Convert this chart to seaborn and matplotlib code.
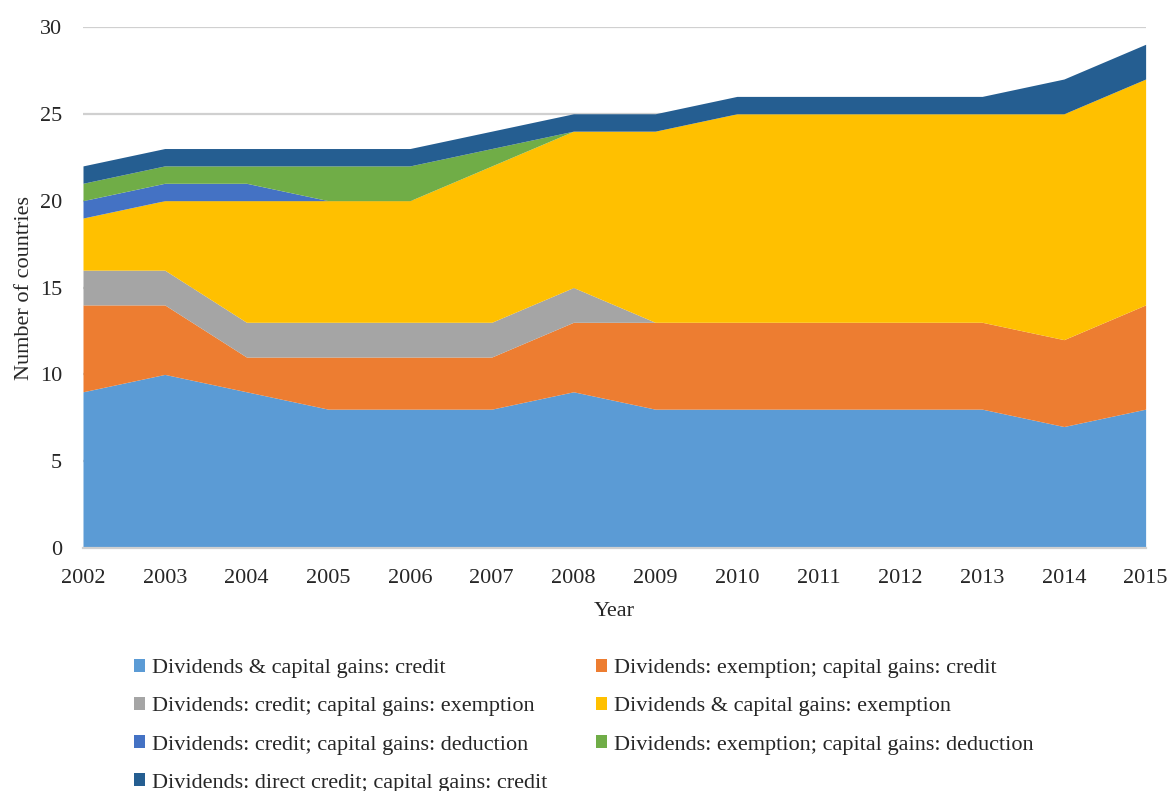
import matplotlib
matplotlib.use("Agg")
import matplotlib.pyplot as plt
import seaborn as sns
import numpy as np

years = [2002, 2003, 2004, 2005, 2006, 2007, 2008, 2009, 2010, 2011, 2012, 2013, 2014, 2015]
div_cg_credit      = [9, 10, 9, 8, 8, 8, 9, 8, 8, 8, 8, 8, 7, 8]
div_ex_cg_credit   = [5, 4, 2, 3, 3, 3, 4, 5, 5, 5, 5, 5, 5, 6]
div_cr_cg_ex       = [2, 2, 2, 2, 2, 2, 2, 0, 0, 0, 0, 0, 0, 0]
div_cg_ex          = [3, 4, 7, 7, 7, 9, 9, 11, 12, 12, 12, 12, 13, 13]
div_cr_cg_ded      = [1, 1, 1, 0, 0, 0, 0, 0, 0, 0, 0, 0, 0, 0]
div_ex_cg_ded      = [1, 1, 1, 2, 2, 1, 0, 0, 0, 0, 0, 0, 0, 0]
div_direct_cg_cr   = [1, 1, 1, 1, 1, 1, 1, 1, 1, 1, 1, 1, 2, 2]

labels = [
    "Dividends & capital gains: credit",
    "Dividends: exemption; capital gains: credit",
    "Dividends: credit; capital gains: exemption",
    "Dividends & capital gains: exemption",
    "Dividends: credit; capital gains: deduction",
    "Dividends: exemption; capital gains: deduction",
    "Dividends: direct credit; capital gains: credit",
]
colors = ["#5B9BD5", "#ED7D31", "#A5A5A5", "#FFC000", "#4472C4", "#70AD47", "#255E91"]

sns.set_style("white")
plt.rcParams['font.family'] = ['Liberation Serif', 'DejaVu Serif']

fig = plt.figure(figsize=(11.69, 7.91), dpi=100)
ax = fig.add_axes([0.071, 0.307, 0.909, 0.659])

series = [div_cg_credit, div_ex_cg_credit, div_cr_cg_ex, div_cg_ex,
          div_cr_cg_ded, div_ex_cg_ded, div_direct_cg_cr]
pal = sns.color_palette(colors)
polys = ax.stackplot(years, *series, colors=pal, labels=labels, linewidth=0, zorder=2)

ax.set_xlim(2002, 2015)
ax.set_ylim(0, 30)
ax.set_yticks(range(0, 31, 5))
ax.set_xticks(years)
ax.set_xticklabels([str(y) for y in years])
ax.yaxis.grid(True, color="#D0D0D0", linewidth=1.6, zorder=0)
ax.set_axisbelow(True)
for s in ["top", "right", "left"]:
    ax.spines[s].set_visible(False)
ax.spines["bottom"].set_color("#D0D0D0")
ax.spines["bottom"].set_linewidth(1.6)
ax.spines["bottom"].set_zorder(3)
ax.tick_params(axis="x", direction="out", length=6, width=1.4, color="#D0D0D0", labelsize=16, pad=9)
ax.tick_params(axis="y", length=0, labelsize=16, pad=15)
ax.set_xlabel("Year", fontsize=16, labelpad=10)
ax.set_ylabel("Number of countries", fontsize=16, labelpad=4)

handles = list(polys)
order = [0, 2, 4, 6, 1, 3, 5]
leg = fig.legend([handles[i] for i in order], [labels[i] for i in order],
                 loc="upper left", bbox_to_anchor=(0.107, 0.178), ncol=2, frameon=False,
                 fontsize=16, handlelength=0.5, handleheight=0.5, handletextpad=0.3,
                 columnspacing=2.2, labelspacing=0.85, borderaxespad=0)

fig.savefig("out.png", dpi=100)
